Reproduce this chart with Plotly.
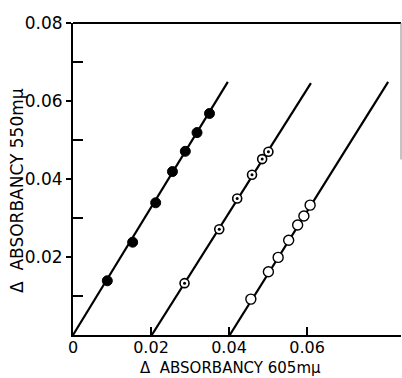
import plotly.graph_objects as go

# Data
filled_x = [0.0088, 0.0153, 0.0212, 0.0255, 0.0288, 0.0318, 0.0350]
filled_y = [0.0139, 0.0238, 0.0339, 0.0419, 0.0471, 0.0519, 0.0568]

dotted_x = [0.0286, 0.0375, 0.0421, 0.0459, 0.0485, 0.0501]
dotted_y = [0.0133, 0.0271, 0.0350, 0.0411, 0.0451, 0.0470]

open_x = [0.0456, 0.0501, 0.0526, 0.0553, 0.0576, 0.0592, 0.0608]
open_y = [0.0092, 0.0162, 0.0199, 0.0243, 0.0282, 0.0305, 0.0333]

# fitted lines: start and end points
line1_x = [0.0, 0.0397]
line1_y = [0.0, 0.0649]
line2_x = [0.0202, 0.0610]
line2_y = [0.0, 0.0646]
line3_x = [0.0402, 0.0808]
line3_y = [0.0, 0.0649]

x_tickvals = [0, 0.02, 0.04, 0.06]
x_ticktext = ["0", "0.02", "0.04", "0.06"]
y_tickvals = [0.02, 0.04, 0.06, 0.08]
y_ticktext = ["0.02", "0.04", "0.06", "0.08"]

x_title = "Δ  ABSORBANCY 605mμ"
y_title = "Δ  ABSORBANCY 550mμ"

FONT = "DejaVu Sans"
fig = go.Figure()

for lx, ly in [(line1_x, line1_y), (line2_x, line2_y), (line3_x, line3_y)]:
    fig.add_trace(go.Scatter(x=lx, y=ly, mode="lines",
                             line=dict(color="black", width=2.2), showlegend=False,
                             hoverinfo="skip"))

fig.add_trace(go.Scatter(x=filled_x, y=filled_y, mode="markers",
                         marker=dict(symbol="circle", size=10, color="black",
                                     line=dict(color="black", width=1)),
                         showlegend=False))
fig.add_trace(go.Scatter(x=dotted_x, y=dotted_y, mode="markers",
                         marker=dict(symbol="circle", size=9, color="white",
                                     line=dict(color="black", width=1.6)),
                         showlegend=False))
fig.add_trace(go.Scatter(x=dotted_x, y=dotted_y, mode="markers",
                         marker=dict(symbol="circle", size=3, color="black",
                                     line=dict(width=0)),
                         showlegend=False))
fig.add_trace(go.Scatter(x=open_x, y=open_y, mode="markers",
                         marker=dict(symbol="circle", size=10, color="white",
                                     line=dict(color="black", width=1.4)),
                         showlegend=False))

fig.update_layout(
    width=402, height=378,
    margin=dict(l=73, r=1, t=23, b=43, autoexpand=False),
    plot_bgcolor="white", paper_bgcolor="white",
    font=dict(family=FONT, color="black", size=16),
    xaxis=dict(range=[0, 0.0841], showgrid=False, zeroline=False, automargin=False,
               showline=True, linecolor="black", linewidth=2,
               tickmode="array", tickvals=x_tickvals, ticktext=x_ticktext,
               ticks="inside", ticklen=8, tickwidth=1.5, tickcolor="black",
               ticklabelstandoff=-3,
               tickfont=dict(size=16, family=FONT)),
    yaxis=dict(range=[0, 0.08], showgrid=False, zeroline=False, automargin=False,
               showline=True, linecolor="black", linewidth=2,
               tickmode="array", tickvals=y_tickvals, ticktext=y_ticktext,
               ticks="outside", ticklen=5, tickwidth=1.5, tickcolor="black",
               tickfont=dict(size=17, family=FONT),
               minor=dict(tickvals=[0.01, 0.03, 0.05, 0.07], ticks="inside",
                          ticklen=10, tickwidth=1.5, tickcolor="black")),
)

fig.add_annotation(text=x_title, xref="paper", yref="paper",
                   x=(230 - 73) / 328, y=(335 - 368) / 312, xanchor="center", yanchor="middle",
                   showarrow=False, borderpad=0, font=dict(size=15, family=FONT))
fig.add_annotation(text=y_title, xref="paper", yref="paper", textangle=-90,
                   x=(17 - 73) / 328, y=(335 - 191) / 312, xanchor="center", yanchor="middle",
                   showarrow=False, borderpad=0, font=dict(size=17, family=FONT))

fig.add_shape(type="line", xref="paper", yref="paper", x0=0, x1=1, y0=1, y1=1,
              line=dict(color="black", width=2))
fig.add_shape(type="line", xref="paper", yref="y", x0=1, x1=1, y0=0.045, y1=0.08,
              line=dict(color="#888888", width=1))

fig.write_html("out.html", config={"displayModeBar": False},
               post_script="document.body.style.margin='0';document.body.style.overflow='hidden';")
